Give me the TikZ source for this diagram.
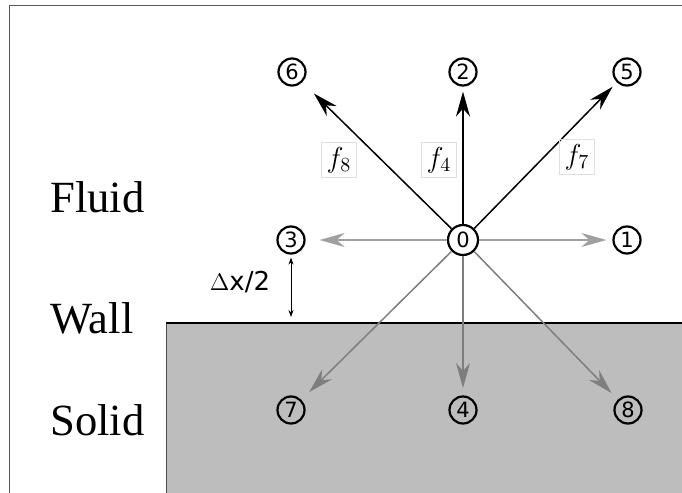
\documentclass[tikz,border=0pt]{standalone}
\usepackage{fontspec}
\usepackage{amsmath}
\usepackage{xcolor}
\usetikzlibrary{arrows.meta,positioning,calc}
\newfontfamily\sitefont{DejaVu Sans}
\newfontfamily\regionfont{Liberation Serif}
\definecolor{solidgray}{HTML}{BDBDBD}
\definecolor{lightarrow}{HTML}{A0A0A0}
\definecolor{darkarrow}{HTML}{7E7E7E}

\tikzset{
  site/.style={circle, draw, line width=1.1pt, minimum size=13.5pt, inner sep=0pt, font=\sitefont\fontsize{10.5}{10.5}\selectfont},
  vel/.style={line width=0.75pt, -{Stealth[length=12.5pt, width=7pt, inset=4pt]}},
  flabel/.style={draw=gray!25, line width=0.5pt, inner sep=2.5pt, font=\fontsize{14}{14}\selectfont},
  region/.style={anchor=base west, inner sep=0pt, font=\regionfont\fontsize{22.3}{26}\selectfont}
}

\begin{document}
\begin{tikzpicture}[x=0.5pt, y=-0.5pt]
  \useasboundingbox (0,0) rectangle (682,493);
  % Solid region and wall
  \fill[solidgray] (166,323) rectangle (682,493);
  \draw[line width=0.4pt, gray!60!black] (166,323) -- (166,493);
  \coordinate (wall) at (166,323);
  \draw[line width=0.8pt] (wall) -- (682,323);
  % Frame
  \draw[line width=0.5pt, gray!70!black] (9,493) -- (9,5) -- (682,5);

  % Lattice sites
  \node[site, minimum size=15pt] (n0) at (463,240) {0};
  \node[site] (n1) at (627,240) {1};
  \node[site] (n2) at (463,72) {2};
  \node[site] (n3) at (291,240) {3};
  \node[site] (n4) at (463,410) {4};
  \node[site] (n5) at (627,72) {5};
  \node[site] (n6) at (292,72) {6};
  \node[site] (n7) at (291,410) {7};
  \node[site] (n8) at (628,410) {8};

  % Unknown directions (into the fluid)
  \draw[vel, shorten >=8pt] (n0) -- (n6);
  \draw[vel, shorten >=2.5pt] (n0) -- (n2);
  \draw[vel, shorten >=3pt] (n0) -- (n5);
  % Known directions
  \draw[vel, lightarrow, shorten >=7pt] (n0) -- (n3);
  \draw[vel, lightarrow, shorten >=3pt] (n0) -- (n1);
  \draw[vel, darkarrow, shorten >=5.5pt] (n0) -- (n7);
  \draw[vel, darkarrow, shorten >=3.7pt] (n0) -- (n4);
  \draw[vel, darkarrow, shorten >=4.5pt] (n0) -- (n8);

  % Distribution labels
  \node[flabel] (f8) at (339,160) {$f_8$};
  \node[flabel] (f4) at (439,160) {$f_4$};
  \node[flabel] (f7) at (577,157) {$f_7$};

  % Half spacing to the wall
  \coordinate (w3) at (n3 |- wall);
  \draw[line width=0.4pt, {Stealth[length=3.5pt, width=2.5pt]}-{Stealth[length=3.5pt, width=2.5pt]}, shorten <=1.5pt, shorten >=3pt] (n3.south) -- (w3);
  \node[font=\sitefont\fontsize{13}{15}\selectfont] (dx) at (240,282) {$\Delta$x/2};

  % Region names
  \node[region] (fluid) at (50,212) {Fluid};
  \node[region] (wallname) at (50,333) {Wall};
  \node[region] (solid) at (50,435) {Solid};
\end{tikzpicture}
\end{document}
